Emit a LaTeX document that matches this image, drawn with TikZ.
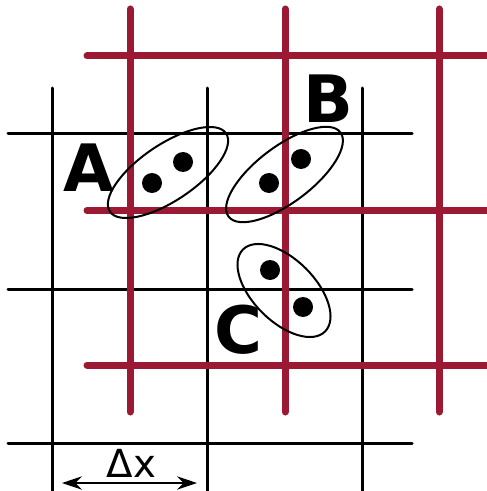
\documentclass[tikz,border=0pt]{standalone}
\usepackage{fontspec}
\setmainfont{DejaVu Sans}
\usetikzlibrary{arrows.meta}
\definecolor{gridred}{RGB}{155,25,50}

\begin{document}
\begin{tikzpicture}[
  x=0.75pt,y=-0.75pt,
  blackline/.style={line width=2.25pt,line cap=round},
  redline/.style={line width=5.25pt,line cap=round,draw=gridred},
  pairring/.style={line width=1.5pt},
  dot/.style={circle,fill,inner sep=0pt,minimum size=15pt},
  letter/.style={font=\fontsize{49}{49}\selectfont\bfseries,inner sep=0pt},
]
  \useasboundingbox (0,0) rectangle (486,491);

  % black lattice
  \foreach \x in {52,207,362}
    \draw[blackline] (\x,88) -- (\x,496);
  \foreach \y in {134,289,443}
    \draw[blackline] (8,\y) -- (412,\y);

  % red lattice, shifted by half a cell
  \foreach \x in {130,285,439}
    \draw[redline] (\x,9) -- (\x,412);
  \foreach \y in {56,210.5,365}
    \draw[redline] (87,\y) -- (496,\y);

  % pairs A, B, C
  \draw[pairring,rotate around={34:(168,172.5)}] (168,172.5) ellipse [x radius=70,y radius=28];
  \node[dot] (a1) at (152,183) {};
  \node[dot] (a2) at (183,162) {};

  \draw[pairring,rotate around={37:(284.5,174.5)}] (284.5,174.5) ellipse [x radius=70,y radius=28];
  \node[dot] (b1) at (269,183) {};
  \node[dot] (b2) at (301,159) {};

  \draw[pairring,rotate around={-45:(284,290.5)}] (284,290.5) ellipse [x radius=58,y radius=31];
  \node[dot] (c1) at (270,270) {};
  \node[dot] (c2) at (303,307) {};

  \node[letter] (labA) at (88.5,167.5) {A};
  \node[letter] (labB) at (328.5,99) {B};
  \node[letter] (labC) at (238.5,330) {C};

  % lattice spacing
  \node[font=\fontsize{29}{29}\selectfont,inner sep=0pt] (dxlabel) at (131.5,463.5) {Δx};
  \coordinate (dxl) at (62,483);
  \coordinate (dxr) at (197,483);
  \draw[{Stealth[length=15pt,width=10pt,inset=5pt]}-{Stealth[length=15pt,width=10pt,inset=5pt]},line width=1.5pt] (dxl) -- (dxr);
\end{tikzpicture}
\end{document}
